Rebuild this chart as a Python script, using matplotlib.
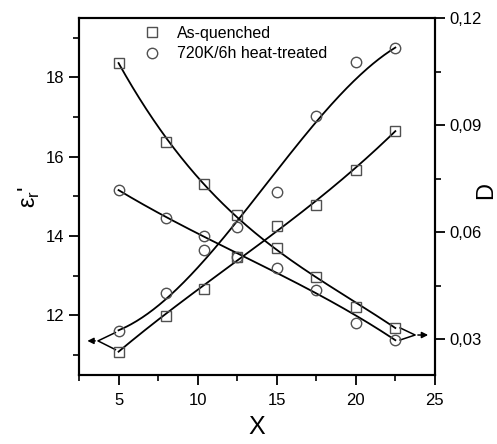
import numpy as np
import matplotlib.pyplot as plt
from matplotlib.ticker import MultipleLocator, FuncFormatter
from matplotlib.lines import Line2D

plt.rcParams['font.family'] = ['Liberation Sans', 'DejaVu Sans']

x = [5, 8, 10.4, 12.5, 15, 17.5, 20, 22.5]
# left axis: dielectric constant (rising curves)
eps_quenched = [11.09, 11.99, 12.67, 13.48, 14.26, 14.79, 15.67, 16.65]
eps_treated = [11.62, 12.57, 13.66, 14.24, 15.12, 17.03, 18.39, 18.74]
# right axis: loss D (falling curves)
d_quenched = [0.1074, 0.0853, 0.0735, 0.0648, 0.0556, 0.0475, 0.0390, 0.0332]
d_treated = [0.0718, 0.0640, 0.0589, 0.0530, 0.0500, 0.0438, 0.0346, 0.0298]

labels = ['As-quenched', '720K/6h heat-treated']

fig = plt.figure(figsize=(4.97, 4.44), dpi=100)
ax = fig.add_axes([0.159, 0.1554, 0.716, 0.8041])
ax2 = ax.twinx()

xs = np.linspace(min(x), max(x), 200)
mk = dict(linestyle='none', markerfacecolor='none', markeredgecolor='#505050',
          markersize=7.5, markeredgewidth=1.0, zorder=3)
# end points weighted so the smooth curves start and stop on the first/last points
w = [4, 1, 1, 1, 1, 1, 1, 4]


def fit_curve(axis, ys):
    c = np.polyfit(x, ys, 3, w=w)
    axis.plot(xs, np.polyval(c, xs), color='black', lw=1.3, zorder=2)


fit_curve(ax, eps_quenched)
fit_curve(ax, eps_treated)
ax.plot(x, eps_quenched, marker='s', **mk)
ax.plot(x, eps_treated, marker='o', **mk)

fit_curve(ax2, d_quenched)
fit_curve(ax2, d_treated)
ax2.plot(x, d_quenched, marker='s', **mk)
ax2.plot(x, d_treated, marker='o', **mk)

# arrows showing which axis each pair belongs to
ax.plot([x[0] - 0.2, 3.7, x[0] - 0.2], [eps_treated[0] - 0.05, 11.36, eps_quenched[0] + 0.05],
        color='black', lw=1.1)
ax.annotate('', xy=(2.85, 11.36), xytext=(3.7, 11.36),
            arrowprops=dict(arrowstyle='-|>', color='black', lw=1.1, mutation_scale=9))
ax2.plot([x[-1] + 0.3, 23.75, x[-1] + 0.3], [d_quenched[-1], 0.0312, d_treated[-1]],
         color='black', lw=1.1)
ax2.annotate('', xy=(24.75, 0.0312), xytext=(23.75, 0.0312),
             arrowprops=dict(arrowstyle='-|>', color='black', lw=1.1, mutation_scale=9))

ax.set_xlim(2.5, 25)
ax.set_ylim(10.5, 19.5)
ax2.set_ylim(0.02, 0.12)

ax.xaxis.set_major_locator(MultipleLocator(5))
ax.xaxis.set_minor_locator(MultipleLocator(2.5))
ax.yaxis.set_major_locator(MultipleLocator(2))
ax.yaxis.set_minor_locator(MultipleLocator(1))
ax2.yaxis.set_major_locator(MultipleLocator(0.03))
ax2.yaxis.set_minor_locator(MultipleLocator(0.015))
ax2.yaxis.set_major_formatter(FuncFormatter(lambda v, p: f'{v:.2f}'.replace('.', ',')))

for a in (ax, ax2):
    for s in a.spines.values():
        s.set_linewidth(1.5)
    a.tick_params(which='major', direction='out', length=7, width=1.3, labelsize=12)
    a.tick_params(which='minor', direction='out', length=4, width=1.2)
ax.tick_params(which='both', top=False, right=False)
ax.tick_params(axis='x', which='major', pad=6)
ax2.tick_params(which='both', top=False, left=False)

ax.set_xlabel('X', fontsize=18, labelpad=5)
ax.set_ylabel("ε$_\\mathregular{r}$'", fontsize=17, labelpad=3)
fig.text(486 / 497, 0.57, 'D', fontsize=17, rotation=90, ha='center', va='center')

handles = [Line2D([], [], marker='s', **mk), Line2D([], [], marker='o', **mk)]
ax.legend(handles, labels, loc='upper left', bbox_to_anchor=(0.15, 1.01), frameon=False,
          fontsize=11.5, handlelength=1.0, handletextpad=1.1, labelspacing=0.35,
          borderaxespad=0.3)

fig.savefig('out.png', dpi=100)
